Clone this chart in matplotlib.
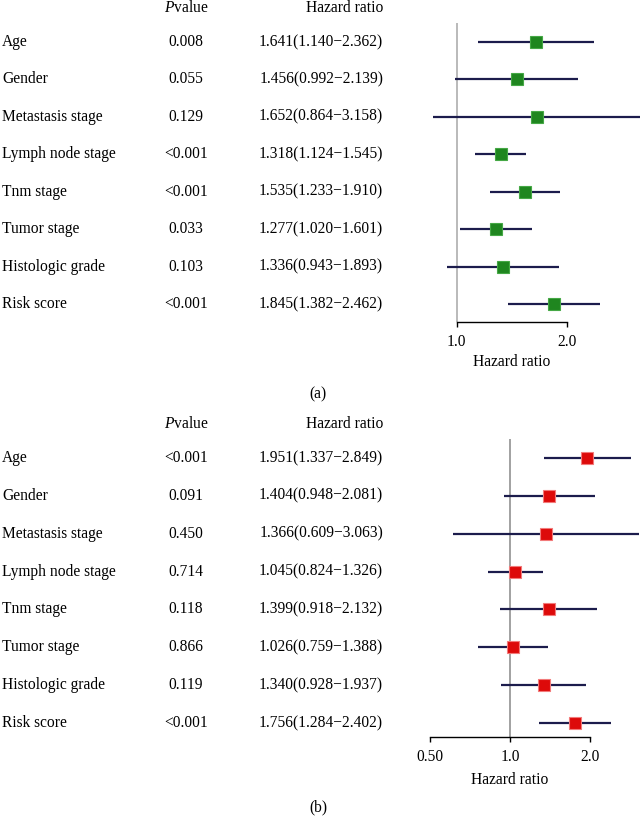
import matplotlib
matplotlib.use("Agg")
import matplotlib.pyplot as plt
import matplotlib.transforms as mtransforms
import numpy as np

plt.rcParams['font.family'] = ['Liberation Serif', 'DejaVu Serif']
plt.rcParams['mathtext.fontset'] = 'custom'
plt.rcParams['mathtext.rm'] = 'Liberation Serif'
plt.rcParams['mathtext.it'] = 'Liberation Serif:italic'

variables = ["Age", "Gender", "Metastasis stage", "Lymph node stage",
             "Tnm stage", "Tumor stage", "Histologic grade", "Risk score"]

# Panel (a)
pval_a = ["0.008", "0.055", "0.129", "<0.001", "<0.001", "0.033", "0.103", "<0.001"]
hr_a = [1.641, 1.456, 1.652, 1.318, 1.535, 1.277, 1.336, 1.845]
lo_a = [1.140, 0.992, 0.864, 1.124, 1.233, 1.020, 0.943, 1.382]
hi_a = [2.362, 2.139, 3.158, 1.545, 1.910, 1.601, 1.893, 2.462]

# Panel (b)
pval_b = ["<0.001", "0.091", "0.450", "0.714", "0.118", "0.866", "0.119", "<0.001"]
hr_b = [1.951, 1.404, 1.366, 1.045, 1.399, 1.026, 1.340, 1.756]
lo_b = [1.337, 0.948, 0.609, 0.824, 0.918, 0.759, 0.928, 1.284]
hi_b = [2.849, 2.081, 3.063, 1.326, 2.132, 1.388, 1.937, 2.402]

ticks_a = [1.0, 2.0]
ticklabels_a = ["1.0", "2.0"]
ticks_b = [0.5, 1.0, 2.0]
ticklabels_b = ["0.50", "1.0", "2.0"]

W, H = 640, 818
fig = plt.figure(figsize=(W / 100, H / 100), dpi=100)

def fx(px):
    return px / W

def fy(py):
    return 1 - py / H

FS = 11.2
LINE_COL = "#1c1c4c"


def panel(top_px, spine_px, row0_px, row_step, one_px, per_doubling, hr, lo, hi,
          pvals, ticks, ticklabels, face, edge, vcol, header_px, xlabel_px, letter,
          letter_px):
    left_px, right_px = 420, 640
    ax = fig.add_axes([fx(left_px), fy(spine_px), fx(right_px) - fx(left_px),
                       (spine_px - top_px) / H])
    ax.set_xscale('log', base=2)
    xl = 2 ** ((left_px - one_px) / per_doubling)
    xr = 2 ** ((right_px - one_px) / per_doubling)
    ax.set_xlim(xl, xr)
    y_top = (top_px - row0_px) / row_step
    y_bot = (spine_px - row0_px) / row_step
    ax.set_ylim(y_bot, y_top)
    n = len(hr)
    ys = np.arange(n)
    ax.axvline(1.0, color=vcol, lw=1.3, zorder=1)
    ax.hlines(ys, lo, hi, color=LINE_COL, lw=1.6, zorder=2)
    ax.plot(hr, ys, linestyle='none', marker='s', markersize=8.8,
            markerfacecolor=face, markeredgecolor=edge, markeredgewidth=0.8,
            zorder=3)
    for s in ['top', 'right', 'left']:
        ax.spines[s].set_visible(False)
    ax.spines['bottom'].set_bounds(ticks[0], ticks[-1])
    ax.spines['bottom'].set_linewidth(1.0)
    ax.set_yticks([])
    ax.set_xticks(ticks)
    ax.set_xticklabels(ticklabels, fontsize=FS)
    ax.xaxis.set_minor_locator(matplotlib.ticker.NullLocator())
    ax.tick_params(axis='x', length=3.5, width=1.0, pad=5)
    ax.patch.set_alpha(0)

    trans = mtransforms.blended_transform_factory(fig.transFigure, ax.transData)
    for i in range(n):
        fig.text(fx(2), i, variables[i], transform=trans, ha='left', va='center',
                 fontsize=FS)
        fig.text(fx(186), i, pvals[i], transform=trans, ha='center', va='center',
                 fontsize=FS)
        fig.text(fx(383), i, f"{hr[i]:.3f}({lo[i]:.3f}\u2212{hi[i]:.3f})",
                 transform=trans, ha='right', va='center', fontsize=FS)
    fig.text(fx(186), fy(header_px), r"$\mathit{P}$value", ha='center',
             va='center', fontsize=FS)
    fig.text(fx(383), fy(header_px), "Hazard ratio", ha='right', va='center',
             fontsize=FS)
    mid = np.sqrt(ticks[0] * ticks[-1])
    ax.text(mid, fy(xlabel_px), "Hazard ratio",
            transform=mtransforms.blended_transform_factory(ax.transData, fig.transFigure),
            ha='center', va='center', fontsize=FS)
    fig.text(fx(letter_px), fy(letter[1]), letter[0], ha='center', va='center',
             fontsize=FS)
    return ax


panel(top_px=23, spine_px=321.7, row0_px=42, row_step=37.43, one_px=456.7,
      per_doubling=110.6, hr=hr_a, lo=lo_a, hi=hi_a, pvals=pval_a,
      ticks=ticks_a, ticklabels=ticklabels_a, face="#1f861f", edge="#45a845",
      vcol="#b4b4b4", header_px=8, xlabel_px=362.5, letter=("(a)", 394),
      letter_px=318)

panel(top_px=439, spine_px=737, row0_px=458, row_step=37.86, one_px=510,
      per_doubling=80, hr=hr_b, lo=lo_b, hi=hi_b, pvals=pval_b,
      ticks=ticks_b, ticklabels=ticklabels_b, face="#dd0a0a", edge="#f27a7a",
      vcol="#9a9a9a", header_px=424, xlabel_px=780, letter=("(b)", 807),
      letter_px=318)

fig.savefig("out.png", dpi=100)
